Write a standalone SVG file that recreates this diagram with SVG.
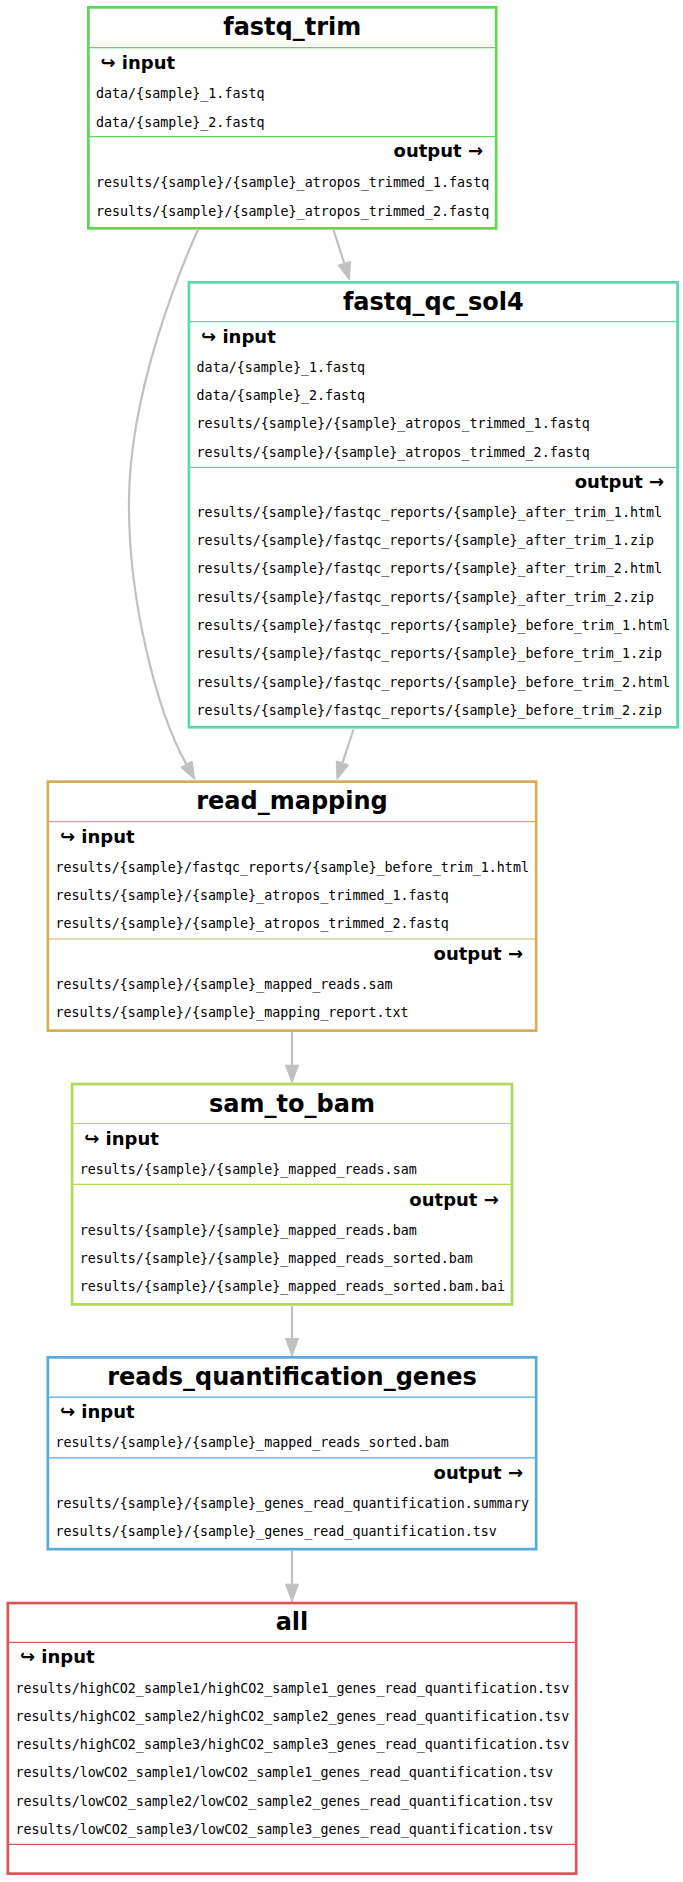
<svg xmlns="http://www.w3.org/2000/svg" width="683" height="1882" viewBox="0 0 683 1882">
<style>
.box{fill:#fff;stroke-width:2.7}
.sep{stroke-width:1.2;fill:none}
.t{font-family:"DejaVu Sans","Liberation Sans",sans-serif;font-weight:bold;font-size:24px;text-anchor:middle;fill:#000}
.l{font-family:"DejaVu Sans","Liberation Sans",sans-serif;font-weight:bold;font-size:18px;fill:#000}
.o{text-anchor:end}
.f{font-family:"DejaVu Sans Mono","Liberation Mono",monospace;font-size:13.33px;fill:#000}
.edge{fill:none;stroke:#c0c0c0;stroke-width:2.2}
.head{fill:#c0c0c0;stroke:#c0c0c0;stroke-width:1}
.g1{stroke:#5ad957}.g2{stroke:#57d9aa}.g3{stroke:#d9ad57}.g4{stroke:#afd957}.g5{stroke:#57aad9}.g6{stroke:#d95757}
</style>
<rect x="0" y="0" width="683" height="1882" fill="#fff"/>
<g id="connectors">
<path class="edge" d="M333.6,230 L344.2,263.3"/>
<polygon class="head" points="350.4,261.3 338,265.3 349.5,280"/>
<path class="edge" d="M198,229.5 C180,270 130,390 129,500 C128,600 157,712 186.4,764.2"/>
<polygon class="head" points="192.1,761.1 180.7,767.3 194.8,779.5"/>
<path class="edge" d="M353.5,729.5 L342.5,762.9"/>
<polygon class="head" points="348.7,764.9 336.3,760.9 337,779.5"/>
<path class="edge" d="M292,1032 L292,1065.2"/>
<polygon class="head" points="285.5,1065.2 298.5,1065.2 292,1082.7"/>
<path class="edge" d="M292,1305.7 L292,1338.5"/>
<polygon class="head" points="285.5,1338.5 298.5,1338.5 292,1356"/>
<path class="edge" d="M292,1550.5 L292,1584.2"/>
<polygon class="head" points="285.5,1584.2 298.5,1584.2 292,1601.7"/>
</g>
<g id="fastq_trim">
<rect class="box g1" x="88.35" y="7.35" width="407.8" height="221"/>
<line class="sep g1" x1="88.4" y1="47.7" x2="496.1" y2="47.7"/>
<line class="sep g1" x1="88.4" y1="136.7" x2="496.1" y2="136.7"/>
<text class="t" x="292.25" y="35">fastq_trim</text>
<text class="l" x="100.5" y="68.5">↪ input</text>
<text class="f" x="96" y="98">data/{sample}_1.fastq</text>
<text class="f" x="96" y="126.5">data/{sample}_2.fastq</text>
<text class="l o" x="483" y="157.3">output →</text>
<text class="f" x="96" y="187">results/{sample}/{sample}_atropos_trimmed_1.fastq</text>
<text class="f" x="96" y="215.5">results/{sample}/{sample}_atropos_trimmed_2.fastq</text>
</g>
<g id="fastq_qc_sol4">
<rect class="box g2" x="188.95" y="282.35" width="488.6" height="444.9"/>
<line class="sep g2" x1="189" y1="321.7" x2="677.5" y2="321.7"/>
<line class="sep g2" x1="189" y1="467.3" x2="677.5" y2="467.3"/>
<text class="t" x="433.25" y="310">fastq_qc_sol4</text>
<text class="l" x="201.1" y="343">↪ input</text>
<text class="f" x="196.6" y="371.7">data/{sample}_1.fastq</text>
<text class="f" x="196.6" y="400">data/{sample}_2.fastq</text>
<text class="f" x="196.6" y="428.3">results/{sample}/{sample}_atropos_trimmed_1.fastq</text>
<text class="f" x="196.6" y="456.6">results/{sample}/{sample}_atropos_trimmed_2.fastq</text>
<text class="l o" x="664.2" y="488.3">output →</text>
<text class="f" x="196.6" y="516.7">results/{sample}/fastqc_reports/{sample}_after_trim_1.html</text>
<text class="f" x="196.6" y="545">results/{sample}/fastqc_reports/{sample}_after_trim_1.zip</text>
<text class="f" x="196.6" y="573.3">results/{sample}/fastqc_reports/{sample}_after_trim_2.html</text>
<text class="f" x="196.6" y="601.6">results/{sample}/fastqc_reports/{sample}_after_trim_2.zip</text>
<text class="f" x="196.6" y="629.9">results/{sample}/fastqc_reports/{sample}_before_trim_1.html</text>
<text class="f" x="196.6" y="658.2">results/{sample}/fastqc_reports/{sample}_before_trim_1.zip</text>
<text class="f" x="196.6" y="686.5">results/{sample}/fastqc_reports/{sample}_before_trim_2.html</text>
<text class="f" x="196.6" y="714.8">results/{sample}/fastqc_reports/{sample}_before_trim_2.zip</text>
</g>
<g id="read_mapping">
<rect class="box g3" x="47.85" y="781.65" width="488.3" height="249"/>
<line class="sep g3" x1="47.9" y1="821.7" x2="536.1" y2="821.7"/>
<line class="sep g3" x1="47.9" y1="939" x2="536.1" y2="939"/>
<text class="t" x="292" y="809.3">read_mapping</text>
<text class="l" x="60" y="842.7">↪ input</text>
<text class="f" x="55.5" y="871.8">results/{sample}/fastqc_reports/{sample}_before_trim_1.html</text>
<text class="f" x="55.5" y="900.1">results/{sample}/{sample}_atropos_trimmed_1.fastq</text>
<text class="f" x="55.5" y="928.4">results/{sample}/{sample}_atropos_trimmed_2.fastq</text>
<text class="l o" x="523" y="960">output →</text>
<text class="f" x="55.5" y="988.8">results/{sample}/{sample}_mapped_reads.sam</text>
<text class="f" x="55.5" y="1017.3">results/{sample}/{sample}_mapping_report.txt</text>
</g>
<g id="sam_to_bam">
<rect class="box g4" x="72.05" y="1084.05" width="439.9" height="220.3"/>
<line class="sep g4" x1="72.1" y1="1123.5" x2="511.9" y2="1123.5"/>
<line class="sep g4" x1="72.1" y1="1184.3" x2="511.9" y2="1184.3"/>
<text class="t" x="292" y="1111.7">sam_to_bam</text>
<text class="l" x="84.2" y="1145">↪ input</text>
<text class="f" x="79.7" y="1173.5">results/{sample}/{sample}_mapped_reads.sam</text>
<text class="l o" x="498.8" y="1205.5">output →</text>
<text class="f" x="79.7" y="1234.5">results/{sample}/{sample}_mapped_reads.bam</text>
<text class="f" x="79.7" y="1262.8">results/{sample}/{sample}_mapped_reads_sorted.bam</text>
<text class="f" x="79.7" y="1291">results/{sample}/{sample}_mapped_reads_sorted.bam.bai</text>
</g>
<g id="reads_quantification_genes">
<rect class="box g5" x="47.85" y="1357.35" width="488.3" height="191.8"/>
<line class="sep g5" x1="47.9" y1="1397.2" x2="536.1" y2="1397.2"/>
<line class="sep g5" x1="47.9" y1="1457.8" x2="536.1" y2="1457.8"/>
<text class="t" x="292" y="1385">reads_quantification_genes</text>
<text class="l" x="60" y="1418.3">↪ input</text>
<text class="f" x="55.5" y="1447.3">results/{sample}/{sample}_mapped_reads_sorted.bam</text>
<text class="l o" x="523" y="1478.8">output →</text>
<text class="f" x="55.5" y="1507.5">results/{sample}/{sample}_genes_read_quantification.summary</text>
<text class="f" x="55.5" y="1535.8">results/{sample}/{sample}_genes_read_quantification.tsv</text>
</g>
<g id="all">
<rect class="box g6" x="7.85" y="1603.05" width="568.3" height="270.6"/>
<line class="sep g6" x1="7.9" y1="1642.3" x2="576.1" y2="1642.3"/>
<line class="sep g6" x1="7.9" y1="1844.4" x2="576.1" y2="1844.4"/>
<text class="t" x="292" y="1630">all</text>
<text class="l" x="20" y="1663.2">↪ input</text>
<text class="f" x="15.5" y="1692.5">results/highCO2_sample1/highCO2_sample1_genes_read_quantification.tsv</text>
<text class="f" x="15.5" y="1720.8">results/highCO2_sample2/highCO2_sample2_genes_read_quantification.tsv</text>
<text class="f" x="15.5" y="1749.1">results/highCO2_sample3/highCO2_sample3_genes_read_quantification.tsv</text>
<text class="f" x="15.5" y="1777.4">results/lowCO2_sample1/lowCO2_sample1_genes_read_quantification.tsv</text>
<text class="f" x="15.5" y="1805.7">results/lowCO2_sample2/lowCO2_sample2_genes_read_quantification.tsv</text>
<text class="f" x="15.5" y="1834">results/lowCO2_sample3/lowCO2_sample3_genes_read_quantification.tsv</text>
</g>
</svg>
